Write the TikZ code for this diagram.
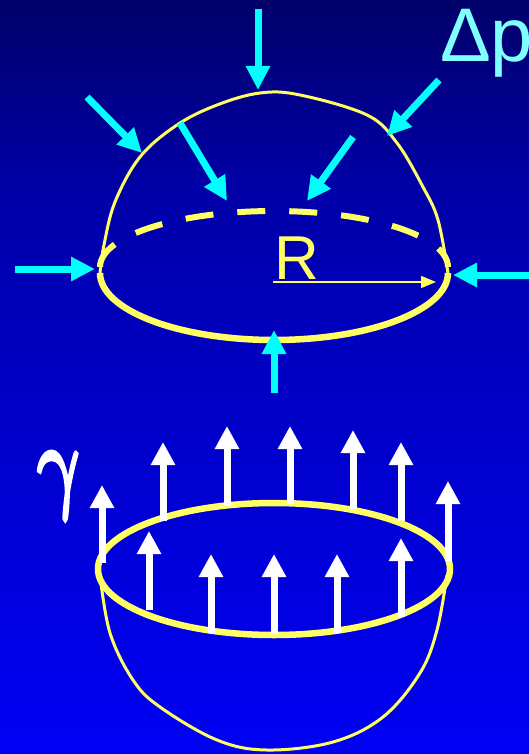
\documentclass[tikz,border=0pt]{standalone}
\usepackage{fontspec}
\setmainfont{Liberation Sans}
\usetikzlibrary{arrows.meta}

\definecolor{bgtop}{RGB}{0,0,105}
\definecolor{bgmid}{RGB}{0,0,195}
\definecolor{bgbot}{RGB}{0,0,245}
\definecolor{rimyellow}{RGB}{255,255,100}
\definecolor{pressure}{RGB}{0,255,255}
\definecolor{deltap}{RGB}{128,255,255}

% heavier glyph: fill and stroke the outline
\newcommand{\heavytext}[1]{\special{pdf:literal direct 2 Tr 0.4 w}#1\special{pdf:literal direct 0 Tr}}

\tikzset{
  push/.style={draw=pressure, line width=7pt,
    -{Triangle[width=23pt,length=24pt]}},
  pull/.style={draw=white, line width=7pt,
    -{Triangle[width=23pt,length=23pt]}},
  outline/.style={draw=rimyellow, line width=3pt, line join=round},
  rim/.style={draw=rimyellow, line width=6.5pt},
  radius/.style={draw=rimyellow, line width=1.5pt,
    -{Triangle[width=12pt,length=15pt]}},
}

\begin{document}
\begin{tikzpicture}[x=1pt,y=-1pt]
  % background
  \useasboundingbox (0,0) rectangle (529,754);
  \shade[top color=bgtop, bottom color=bgmid, middle color=bgmid!70!bgtop]
    (0,0) rectangle (529,377);
  \shade[top color=bgmid, bottom color=bgbot] (0,377) rectangle (529,754);

  % ---------- upper half: cap under pressure ----------
  \draw[outline] plot[smooth, tension=0.6] coordinates {
    (100,273) (104,245) (115,202) (140,157) (177,125) (217,105)
    (260,93) (300,95) (367,115) (397,143) (423,187) (438,220) (448,273)};
  % hidden rear edge of the cut
  \draw[draw=rimyellow, line width=6pt, dash pattern=on 28pt off 24pt]
    (100,267) arc[start angle=180, end angle=360, x radius=174, y radius=56];
  % visible front edge of the cut
  \draw[rim] (100,273) arc[start angle=180, end angle=0, x radius=174, y radius=67];

  % radius
  \coordinate (rc) at (273,282);
  \coordinate (re) at (436,282);
  \draw[radius] (rc) -- (re);
  \node[text=rimyellow, font=\fontsize{62}{64}\selectfont, anchor=base]
    (rlabel) at (297,279) {R};

  % pressure arrows
  \draw[push] (258,9) -- (258,90);
  \draw[push] (87,97) -- (142,153);
  \draw[push] (180,123) -- (227,201);
  \draw[push] (353,137) -- (307,201);
  \draw[push] (439,80) -- (387,136);
  \draw[push] (15,269) -- (95,269);
  \draw[push] (529,275) -- (453,275);
  \draw[push] (274,393) -- (274,330);

  \node[text=deltap, font=\fontsize{76}{80}\selectfont, anchor=base west,
    inner sep=0pt] (dp) at (440,62) {Δp};

  % ---------- lower half: surface tension on the rim ----------
  \draw[outline] plot[smooth, tension=0.6] coordinates {
    (100,575) (110,633) (133,680) (160,707) (217,740) (267,750)
    (333,742) (383,717) (420,673) (437,630) (447,575)};
  \draw[rim] (274,569) ellipse[x radius=176, y radius=66];

  % tension arrows, rear row
  \draw[pull] (102,563) -- (102,485);
  \draw[pull] (163,521) -- (163,442);
  \draw[pull] (227,506) -- (227,426);
  \draw[pull] (290,504) -- (290,426);
  \draw[pull] (353,509) -- (353,430);
  \draw[pull] (401,521) -- (401,442);
  \draw[pull] (448,561) -- (448,481);
  % front row
  \draw[pull] (149,610) -- (149,531);
  \draw[pull] (211,633) -- (211,554);
  \draw[pull] (274,634) -- (274,554);
  \draw[pull] (337,633) -- (337,554);
  \draw[pull] (401,617) -- (401,538);

  \node[text=white, xscale=7.6, yscale=10.5, xslant=-0.12, anchor=base west,
    inner sep=0pt] (gamma) at (38,498) {\heavytext{$\gamma$}};
\end{tikzpicture}
\end{document}
